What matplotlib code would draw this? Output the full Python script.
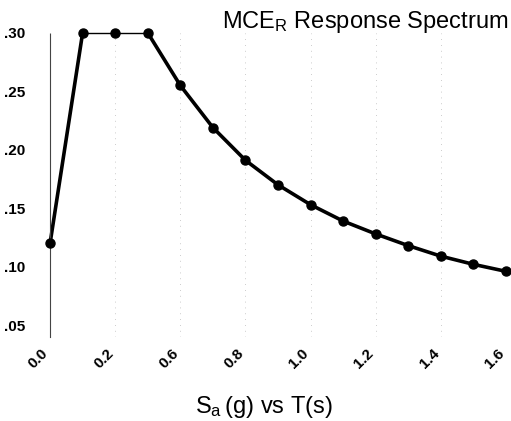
import numpy as np
import matplotlib.pyplot as plt
import matplotlib.transforms as mtransforms

plt.rcParams['font.family'] = ['Liberation Sans', 'DejaVu Sans']
plt.rcParams['mathtext.fontset'] = 'custom'
plt.rcParams['mathtext.rm'] = 'Liberation Sans'

# periods (s) of the plotted points, evenly spaced as categories
periods = [0.0, 0.1, 0.2, 0.5, 0.6, 0.7, 0.8, 0.9, 1.0, 1.1, 1.2, 1.3, 1.4, 1.5, 1.6]
sa = [0.12, 0.30, 0.30, 0.30, 0.255, 0.219, 0.191, 0.170, 0.153, 0.139,
      0.128, 0.118, 0.109, 0.102, 0.096]
xtick_labels = ['0.0', '0.2', '0.6', '0.8', '1.0', '1.2', '1.4', '1.6']
ytick_vals = [0.05, 0.10, 0.15, 0.20, 0.25, 0.30]
ytick_labels = ['.05', '.10', '.15', '.20', '.25', '.30']

idx = np.arange(len(periods))

fig = plt.figure(figsize=(5.11, 4.21), dpi=100)
ax = fig.add_axes([0.098, 0.2, 0.892, 0.722])

# thick rising branch and descending branch, thin plateau
ax.plot(idx[:2], sa[:2], color='black', lw=2.6, clip_on=False)
ax.plot(idx[1:4], sa[1:4], color='black', lw=1.0, clip_on=False)
ax.plot(idx[3:], sa[3:], color='black', lw=2.6, clip_on=False)
ax.plot(idx, sa, 'o', color='black', ms=6.5, clip_on=False, zorder=3)

ax.set_xlim(0, len(periods) - 1)
ax.set_ylim(0.04, 0.30)

# x labels every other category, rotated and nudged left like the original
ax.set_xticks(idx[::2])
ax.set_xticklabels([])
shift = mtransforms.ScaledTranslation(-0.09, -0.09, fig.dpi_scale_trans)
for x, lab in zip(idx[::2], xtick_labels):
    ax.text(x, 0, lab, transform=ax.get_xaxis_transform() + shift,
            rotation=45, ha='right', va='top', rotation_mode='anchor',
            fontsize=11, fontweight='bold')
ax.set_yticks(ytick_vals)
ax.set_yticklabels(ytick_labels, fontsize=11, fontweight='bold')
ax.tick_params(axis='both', length=0)
ax.tick_params(axis='y', pad=18)

ax.grid(axis='x', color='#bbbbbb', lw=0.6, linestyle=(0, (1, 6)))
for s in ['top', 'right', 'bottom']:
    ax.spines[s].set_visible(False)
ax.spines['left'].set_color('#444444')
ax.spines['left'].set_linestyle((0, (1, 1)))
ax.spines['left'].set_linewidth(0.8)

fig.text(0.995, 0.948, r'$\mathregular{MCE_R}$ Response Spectrum', ha='right', va='center',
         fontsize=17)
fig.text(0.517, 0.033, r'$\mathregular{S_a\,}$(g) vs T(s)', ha='center', va='center', fontsize=17)

fig.savefig('out.png', dpi=100)
